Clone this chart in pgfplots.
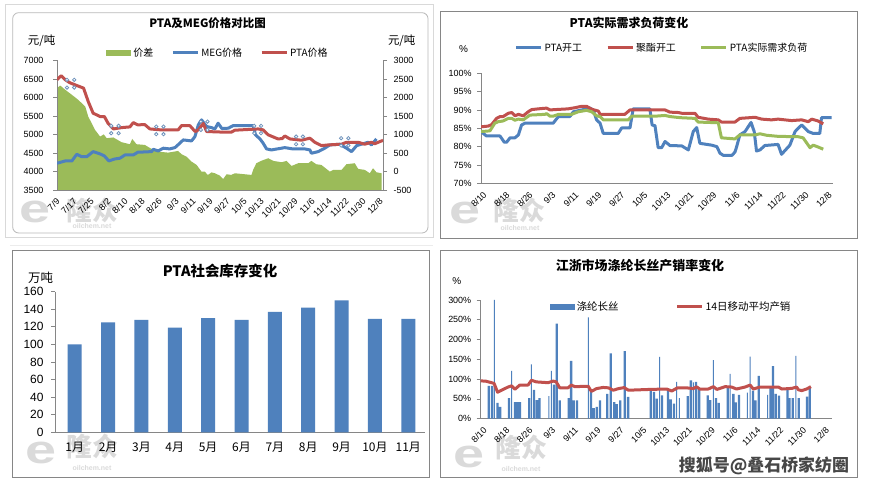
\documentclass[border=0pt]{standalone}
\usepackage{fontspec}
\usepackage{pgfplots}
\pgfplotsset{compat=1.18}
\setmainfont{Liberation Sans}
\newfontfamily\cjk{Noto Sans CJK SC}
\definecolor{xblue}{HTML}{4F81BD}
\definecolor{xred}{HTML}{C0504D}
\definecolor{xgreen}{HTML}{9BBB59}
\definecolor{axgray}{HTML}{868686}
\definecolor{wm}{HTML}{DADADA}
\definecolor{handle}{HTML}{6F93BC}
\newcommand\fs[1]{\fontsize{#1}{#1}\selectfont}

\pgfplotsset{
  panel/.style={scale only axis, anchor=south west,
    axis line style={axgray, line width=0.75bp},
    tick style={axgray, line width=0.75bp},
    tick align=outside, major tick length=4bp,
    /pgf/number format/assume math mode=true,
    /pgf/number format/1000 sep={},
    legend cell align=left,
    legend style={draw=none, fill=none, inner sep=0bp}},
  datex/.style={xtick style={draw=none},
    xticklabel style={rotate=45, anchor=east, font=\fs{9}, yshift=-5bp}},
  legline/.style={legend image code/.code={\draw[#1, line width=3bp] (0bp,0bp) -- (25bp,0bp);}},
  legbox/.style={legend image code/.code={\fill[#1] (0bp,-3bp) rectangle (25bp,3bp);}},
}

\begin{document}
\begin{tikzpicture}[x=1bp,y=1bp]
\fill[white] (0,0) rectangle (869,488);

% frames
\draw[gray!30, line width=1bp] (5,250) rectangle (433,483);
\draw[gray!55, line width=0.8bp, rounded corners=6bp] (12.7,255) rectangle (428,475.3);
\draw[axgray, line width=0.8bp] (440,250) rectangle (857,476.3);
\draw[gray!15, line width=1.5bp] (10,242.5) -- (433,242.5);
\draw[axgray, line width=0.8bp] (12,10.7) rectangle (429,238);
\draw[axgray, line width=0.8bp] (440,10.7) rectangle (857,238);

% watermarks
\foreach \ex/\ey/\lx/\ly/\ox/\oy in {35/276/92/277/92/262, 465/275/519/277/520/260, 41/35/92/41/92/20, 469/31/521/40/521/19}{
  \node[text=wm, font=\bfseries\fs{40}, xscale=1.4, transform shape] at (\ex,\ey) {e};
  \node[text=wm, font=\cjk\bfseries\fs{26}] at (\lx,\ly) {隆众};
  \node[text=wm, font=\bfseries\fs{7}] at (\ox,\oy) {oilchem.net};
}

% ---------- panel 1: right axis (spread)
\begin{axis}[panel, at={(57bp,298bp)}, width=326bp, height=129.5bp,
  xmin=0, xmax=153.4, ymin=-500, ymax=3000, ytick={-500,0,...,3000},
  axis y line*=right, axis x line=none,
  yticklabel style={font=\fs{9}, xshift=3bp},
  legend columns=3,
  legend style={at={(0.494,1.058)}, anchor=center, font=\cjk\fs{10},
    /tikz/every even column/.append style={column sep=16bp}}]
\addplot[fill=xgreen, draw=none, legbox=xgreen] coordinates {
(0,-500) (0,2253) (1.5,2323) (3.9,2207) (7,2072) (10,1936) (13.3,1755) (14.7,1484)
(16.3,1305) (17.9,1124) (20.3,943) (22,1003) (23.4,900) (26.5,920) (30.4,791)
(34.3,737) (35.4,880) (37.4,737) (41.3,718) (44.5,610) (47.6,537) (52.3,510)
(57,555) (58.6,466) (61,400) (63.3,267) (65.7,177) (68,-4) (69.5,-4) (71,-95)
(72.7,-24) (74.3,-48) (76.6,-111) (78.2,-202) (79.8,-75) (82,-93) (83.7,-48)
(91.5,-93) (92.3,43) (93.8,223) (96,286) (99.4,358) (101.8,286) (105.7,250)
(108,286) (110.4,150) (113.5,223) (118.2,223) (119.7,286) (122,196) (124.4,177)
(128.4,-4) (130,43) (133.9,43) (136.2,196) (140.1,223) (141.7,70) (144.8,43)
(147.2,-48) (148.7,88) (150.3,-21) (152.7,-48) (152.7,-500)} -- cycle;
\addlegendentry{价差}
\addlegendimage{legline=xblue}
\addlegendentry{MEG价格}
\addlegendimage{legline=xred}
\addlegendentry{PTA价格}
\end{axis}

% ---------- panel 1: left axis (prices)
\begin{axis}[panel, datex, at={(57bp,298bp)}, width=326bp, height=129.5bp,
  xmin=0, xmax=153.4, ymin=3500, ymax=7000, ytick={3500,4000,...,7000},
  axis y line*=left, axis x line*=bottom,
  yticklabel style={font=\fs{9}, xshift=-6bp},
  xtick={0,8,...,152},
  xticklabels={7/9,7/17,7/25,8/2,8/10,8/18,8/26,9/3,9/11,9/19,9/27,10/5,10/13,10/21,10/29,11/6,11/14,11/22,11/30,12/8}]
\addplot[xblue, line width=3bp, line join=round] coordinates {
(0,4223) (3.9,4285) (7,4285) (9.3,4466) (11.6,4400) (14,4400) (17,4537) (20.3,4475)
(22.3,4420) (24.4,4285) (27.3,4340) (29.6,4358) (32,4447) (35.9,4447) (38,4520)
(44.5,4537) (45.3,4600) (47.6,4555) (50,4630) (53,4610) (55.5,4645) (57.8,4765)
(59.4,4853) (63.3,4826) (64.9,4943) (66.5,5260) (68,5395) (70.4,5215) (72.7,5186)
(74.3,5150) (75.8,5305) (77.6,5160) (80.6,5170) (82.9,5240) (92.3,5240) (93.4,4990)
(95.5,4880) (97,4765) (98.6,4610) (100.9,4583) (107.2,4645) (111,4610) (116.6,4610)
(119,4583) (119.7,4493) (122.9,4537) (126,4630) (128.4,4718) (133,4737) (136.2,4630)
(138.6,4537) (141,4700) (146.4,4790) (148,4718) (150.3,4880)};
\addplot[xred, line width=3bp, line join=round] coordinates {
(0,6480) (2,6590) (3.9,6478) (6,6400) (8.5,6342) (12.5,6253) (14.7,5890) (17,5576)
(20.3,5485) (22.3,5485) (24,5305) (26.5,5150) (30.4,5186) (34.3,5205) (35.9,5322)
(38,5260) (41.3,5268) (43.7,5150) (49,5124) (57,5124) (58.6,5240) (62.5,5240)
(65,5080) (66.5,5124) (68.8,5300) (70.4,5080) (79,5062) (82,5062) (83.7,5116)
(94.7,5150) (97,5124) (99.4,4990) (104,4880) (106,4890) (107.2,4960) (109.6,4880)
(115,4845) (119,4900) (121.3,4790) (124.4,4700) (127.6,4718) (133.9,4737)
(136.2,4790) (141.7,4790) (144.8,4737) (148,4790) (149.5,4750) (152.7,4826) (153.4,4840)};
\addplot[only marks, mark=*, mark size=1.7bp, mark options={fill=white, draw=handle, line width=0.8bp}] coordinates {
(4.7,6478) (8.1,6478) (4.7,6269) (8.1,6269)
(25.5,5233) (29,5233) (25.5,5035) (29,5035)
(46.7,5214) (50.1,5214) (46.7,5008) (50.1,5008)
(67.7,5349) (70.8,5349) (67.7,5124) (70.8,5124)
(92.8,5233) (96,5233) (92.8,5035) (96,5035)
(112.5,4943) (115.7,4943) (112.5,4737) (115.7,4737)
(133.7,4900) (137.1,4900) (133.7,4700) (137.1,4700)};
\end{axis}
\node[font=\cjk\bfseries\fs{11.5}] at (207.5,465.3) {PTA及MEG价格对比图};
\node[font=\cjk\fs{11.5}] at (41.7,447) {元/吨};
\node[font=\cjk\fs{11.5}] at (401.7,447) {元/吨};

% ---------- panel 2
\begin{axis}[panel, datex, at={(481bp,304.7bp)}, width=352bp, height=110bp,
  xmin=-1, xmax=121.4, ymin=70, ymax=100, ytick={70,75,...,100},
  yticklabel={\pgfmathprintnumber{\tick}\%},
  yticklabel style={font=\fs{9}, xshift=-2bp},
  axis y line*=left, axis x line*=bottom,
  xtick={0,8,...,120},
  xticklabels={8/10,8/18,8/26,9/3,9/11,9/19,9/27,10/5,10/13,10/21,10/29,11/6,11/14,11/22,11/30,12/8},
  legend columns=3,
  legend style={at={(0.514,1.23)}, anchor=center, font=\cjk\fs{10},
    /tikz/every even column/.append style={column sep=22bp}}]
\addplot[xblue, line width=3bp, line join=round, legline=xblue] coordinates {
(-1,84.1) (0.9,82.9) (5.6,82.9) (7.1,81.2) (7.9,81.2) (9.1,82.4) (10.8,82.4) (12,83.2)
(13.1,85.9) (14.3,86.4) (24.1,86.4) (25.9,88.2) (29.9,88.2) (31.1,89.5) (36.9,90.5)
(38,90) (39.2,87.3) (40.4,86.4) (41.5,83.6) (46.7,83.6) (47.9,85.1) (50.8,85.1)
(51.9,90.3) (57.7,90.3) (58.5,85.9) (59.5,85.7) (60.6,79.7) (61.8,79.7) (63,81.4)
(64.7,80.3) (68.8,80.2) (71.1,79.1) (72.8,84.1) (74,85.2) (75.1,80.9) (79.2,80.4)
(81,80) (82.1,78.2) (83.3,77.6) (86.2,77.6) (87.3,78.5) (87.9,80) (89,83.2)
(90.8,84.1) (92.9,86.6) (94,84.1) (94.8,78.8) (96,79.1) (97.7,80.3) (102.3,80.6)
(103.5,77.9) (106.4,80.4) (108.2,84.1) (109.3,85) (110.5,85.9) (112.8,84.1)
(114.5,83.6) (116.8,83.6) (117.4,87.9) (120.9,87.9)};
\addlegendentry{PTA开工}
\addplot[xred, line width=3bp, line join=round, legline=xred] coordinates {
(-1,85.4) (1.5,85.6) (2.7,86) (4.4,87.7) (5.6,88.2) (6.7,88.2) (8.5,89.1) (9.7,89.3)
(10.8,88.4) (12,88.8) (13.7,88.4) (15.4,89.5) (16.6,90.1) (18.9,90.3) (21.8,90.5)
(23,90) (24.7,90.1) (29.3,90.3) (31.6,90.6) (34,91) (35.7,91) (37.5,90.2) (39.8,89.7)
(40.4,88.8) (49,88.8) (50.8,90) (63,90) (64.7,89.4) (67.6,89.3) (68.8,89.1)
(73.4,89.1) (74.5,88) (78,87.5) (81.5,87.3) (82.6,86.7) (87.3,86.7) (89,87.7)
(94.3,88) (96.6,87.5) (100,87.3) (102.3,87.5) (107,87.1) (110.5,87.3) (112.8,86.8)
(114,87.5) (116.2,87) (118,86.2)};
\addlegendentry{聚酯开工}
\addplot[xgreen, line width=3bp, line join=round, legline=xgreen] coordinates {
(-1,84.1) (2.1,84.3) (3.8,86.4) (5,86.8) (6.7,87) (8.5,87.7) (9.7,87.7) (10.8,87.2)
(12,87.5) (13.7,87.3) (16,88.6) (21.2,88.8) (21.8,89) (23,88.3) (24.1,88.3)
(25.9,88.8) (30.5,88.8) (32.8,89.5) (35.7,89.9) (37.5,89.5) (39.2,88.4) (40.4,88.2)
(41.5,87.3) (50.2,87.3) (51.4,88.3) (59.5,88.3) (63,88.5) (64.7,88.2) (68.2,87.9)
(73.4,87.7) (74.5,86.7) (81.5,86.5) (82.6,82.4) (87.3,82.1) (89,83.2) (94.3,83.2)
(96,83.5) (98.3,83.1) (102.3,82.8) (109.3,82.7) (111,82.4) (113.4,79.7) (114.5,80.4)
(116.2,79.9) (118,79.3)};
\addlegendentry{PTA实际需求负荷}
\end{axis}
\node[font=\cjk\bfseries\fs{12}] at (629,465.3) {PTA实际需求负荷变化};
\node[font=\fs{10}] at (463.5,439) {\%};

% ---------- panel 3
\begin{axis}[panel, at={(55bp,55.7bp)}, width=370bp, height=140.6bp,
  xmin=-0.59, xmax=10.5, ymin=0, ymax=160, ytick={0,20,...,160},
  axis y line*=left, axis x line*=bottom,
  yticklabel style={font=\fs{12}, xshift=-4bp},
  xtick={0,...,10}, xtick style={draw=none},
  xticklabels={1月,2月,3月,4月,5月,6月,7月,8月,9月,10月,11月},
  xticklabel style={font=\cjk\fs{12}, yshift=-2bp}]
\addplot[ybar, bar width=14bp, fill=xblue, draw=none] coordinates {
(0,100) (1,125) (2,128) (3,119) (4,130) (5,128) (6,137) (7,142) (8,150) (9,129) (10,129)};
\end{axis}
\node[font=\cjk\bfseries\fs{14.5}] at (220,217) {PTA社会库存变化};
\node[font=\cjk\fs{12.5}] at (40.5,210.7) {万吨};

% ---------- panel 4
\begin{axis}[panel, datex, at={(480.7bp,69.3bp)}, width=351.3bp, height=118.7bp,
  xmin=-1.2, xmax=122, ymin=0, ymax=300, ytick={0,50,...,300},
  yticklabel={\pgfmathprintnumber{\tick}\%},
  yticklabel style={font=\fs{9}, xshift=-2bp},
  axis y line*=left, axis x line*=bottom,
  xtick={0,8,...,120},
  xticklabels={8/10,8/18,8/26,9/3,9/11,9/19,9/27,10/5,10/13,10/21,10/29,11/6,11/14,11/22,11/30,12/8},
  legend columns=2,
  legend style={at={(0.542,0.944)}, anchor=center, font=\cjk\fs{10.5},
    /tikz/every even column/.append style={column sep=55bp}}]
\addplot[ybar, bar width=2.3bp, fill=xblue, draw=none, legbox=xblue] coordinates {
(1.6,83) (2.8,83) (4.7,40) (5.6,30) (8.7,52) (10.8,42) (11.7,42) (12.6,42) (15.8,52)
(17.5,73) (18.5,47) (19.4,52) (24.5,86) (25.5,240) (26.5,46) (29.7,52) (30.5,146)
(31.4,46) (32.6,46) (37.5,67) (38.4,27) (39.5,30) (40.6,46) (43.2,63) (44.4,165)
(45.6,42) (46.5,37) (47.7,46) (49.3,171) (50.5,55) (58.4,71) (59.6,68) (60.5,51)
(62.4,59) (64.5,71) (65.4,49) (66.6,38) (71.4,57) (72.5,97) (74.3,93) (75.4,76)
(78.4,59) (79.3,47) (81.3,52) (82.3,40) (85.4,80) (87.4,63) (88.2,41) (89.4,60)
(94.3,71) (95.2,46) (96.3,108) (100.4,80) (101.3,133) (102.3,63) (103.4,58)
(106.4,73) (107.1,52) (108.2,52) (110.3,52) (113.2,56) (114.2,80)};
\addlegendentry{涤纶长丝}
\addplot[ybar, bar width=1bp, fill=xblue, draw=none, forget plot] coordinates {
(3.6,300) (9.6,121) (16.6,137) (22.7,57) (23.6,121) (36.6,256) (61.5,156) (67.5,93)
(68.5,52) (73.4,92) (80.4,148) (86.3,113) (92.3,66) (93.3,157) (99.4,60) (109.3,159)};
\addplot[xred, line width=3bp, line join=round, legline=xred] coordinates {
(-1.2,95.5) (0.5,95) (2.6,91) (3.5,89) (4.7,67) (6.1,72) (8.4,80) (9.6,83) (10.8,74.5)
(12.5,85) (15.4,85) (16.6,97) (18.3,93) (22.4,91) (24.2,95) (25.3,93) (26.5,78)
(29.4,78) (30.6,85) (31.8,81) (36.5,82) (37.6,69) (39.4,76) (41.7,79) (43.6,78)
(45.3,72) (47.1,76) (49.1,78.6) (50.6,72) (58.2,74) (64,75) (65.8,70) (67.8,78)
(71,78) (73.4,76) (74.5,80.7) (75.7,74.5) (78.6,75) (80.4,81) (81.6,74) (84.5,81)
(86.8,80) (88.5,75) (91.5,80) (93.3,85) (94.4,75) (96.7,80) (103.2,80) (104.4,75)
(107.9,76.6) (109.6,80) (110.2,73) (111.4,71) (113.1,75) (114.6,81)};
\addlegendentry{14日移动平均产销}
\end{axis}
\node[font=\cjk\bfseries\fs{13}] at (640,222.3) {江浙市场涤纶长丝产销率变化};
\node[font=\fs{10}] at (456.7,207) {\%};

\node[font=\cjk\bfseries\fs{17}, text=black!72] at (764,22) {搜狐号@叠石桥家纺圈};
\pgfresetboundingbox
\path (0,0) rectangle (869,488);
\end{tikzpicture}
\end{document}
